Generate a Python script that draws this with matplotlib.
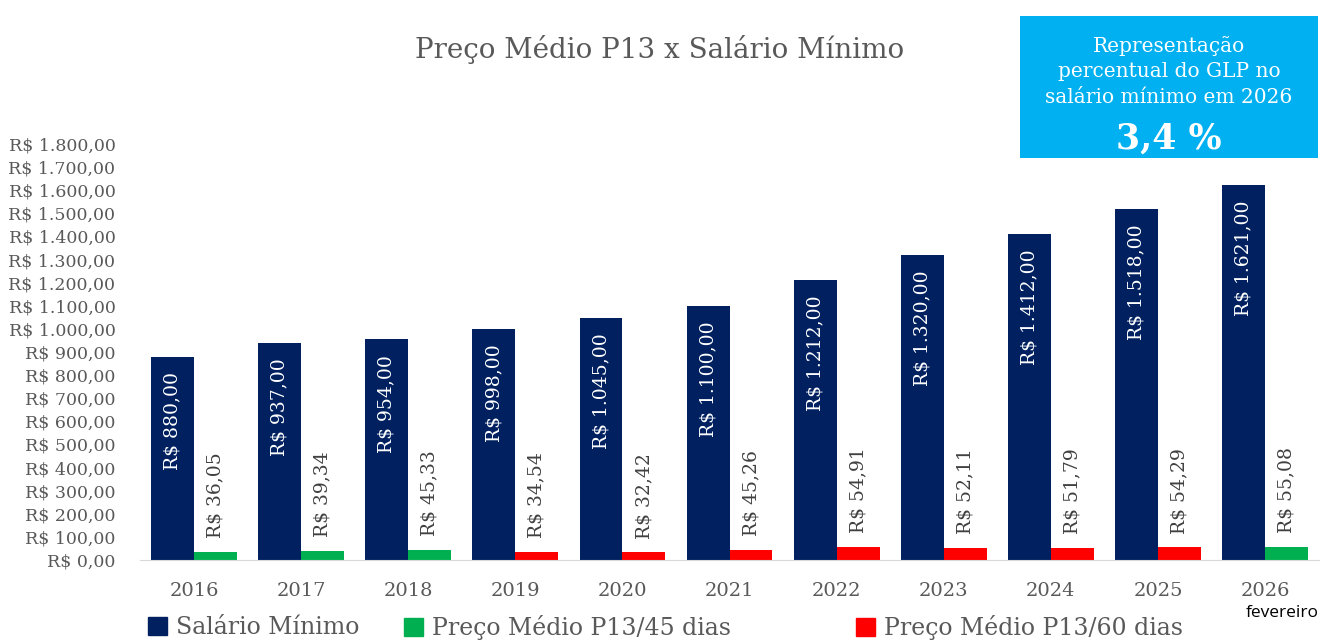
import matplotlib
matplotlib.use("Agg")
from matplotlib import pyplot as plt
from matplotlib.patches import Patch
from matplotlib.ticker import FuncFormatter, MultipleLocator
import numpy as np

anos = ["2016", "2017", "2018", "2019", "2020", "2021", "2022", "2023", "2024", "2025", "2026"]
salario_minimo = [880.00, 937.00, 954.00, 998.00, 1045.00, 1100.00, 1212.00, 1320.00, 1412.00, 1518.00, 1621.00]
preco_p13 = [36.05, 39.34, 45.33, 34.54, 32.42, 45.26, 54.91, 52.11, 51.79, 54.29, 55.08]
prazo_p13 = [45, 45, 45, 60, 60, 60, 60, 60, 60, 60, 45]
percentual_2026 = "3,4 %"

NAVY = "#002060"
GREEN = "#00B050"
RED = "#FF0000"
GRAY = "#595959"
SERIF = ["DejaVu Serif"]


def brl(v, pos=None):
    s = f"{v:,.2f}".replace(",", "X").replace(".", ",").replace("X", ".")
    return f"R$ {s}"


fig = plt.figure(figsize=(13.2, 6.41), dpi=100)
ax = fig.add_axes([0.1064, 0.1264, 0.8926, 0.649])

x = np.arange(len(anos))
w = 0.4
ax.bar(x - w / 2, salario_minimo, width=w, color=NAVY, align="center")
cores = [GREEN if p == 45 else RED for p in prazo_p13]
ax.bar(x + w / 2, preco_p13, width=w, color=cores, align="center")

for xi, v in zip(x, salario_minimo):
    ax.annotate(brl(v), (xi - w / 2, v), xytext=(0, -11), textcoords="offset points",
                rotation=90, ha="center", va="top", color="white", fontsize=13.5, family=SERIF)
for xi, v in zip(x, preco_p13):
    ax.annotate(brl(v), (xi + w / 2, v), xytext=(0, 10), textcoords="offset points",
                rotation=90, ha="center", va="bottom", color="#404040", fontsize=13.5, family=SERIF)

ax.set_xlim(-0.5, len(anos) - 0.5)
ax.set_ylim(0, 1800)
ax.yaxis.set_major_locator(MultipleLocator(100))
ax.yaxis.set_major_formatter(FuncFormatter(brl))
ax.set_xticks(x)
ax.set_xticklabels(anos)
for lab in ax.get_yticklabels():
    lab.set_family(SERIF)
    lab.set_fontsize(12.5)
    lab.set_color(GRAY)
for lab in ax.get_xticklabels():
    lab.set_family(SERIF)
    lab.set_fontsize(14)
    lab.set_color(GRAY)
ax.tick_params(axis="y", length=0, pad=18)
ax.tick_params(axis="x", length=0, pad=16)
for s in ["top", "right", "left"]:
    ax.spines[s].set_visible(False)
ax.spines["bottom"].set_color("#D9D9D9")

ax.text(x[-1] + 0.16, -0.108, "fevereiro", transform=ax.get_xaxis_transform(),
        ha="center", va="top", fontsize=12.5, color="black", family=["Open Sans", "DejaVu Sans"])

fig.text(0.5, 1 - 50 / 641, "Preço Médio P13 x Salário Mínimo", ha="center", va="center",
         fontsize=20, color=GRAY, family=SERIF)

# caixa de destaque
box = fig.add_axes([1020 / 1320, 1 - 158 / 641, 298 / 1320, 142 / 641])
box.set_facecolor("#00B0F0")
box.set_xticks([])
box.set_yticks([])
for s in box.spines.values():
    s.set_visible(False)
box.text(0.5, 0.61, "Representação\npercentual do GLP no\nsalário mínimo em 2026",
         ha="center", va="center", color="white", fontsize=14.5, family=SERIF, linespacing=1.45)
box.text(0.5, 0.14, percentual_2026, ha="center", va="center", color="white",
         fontsize=25, fontweight="bold", family=SERIF)

leg_items = [("Salário Mínimo", NAVY, 148), ("Preço Médio P13/45 dias", GREEN, 404),
             ("Preço Médio P13/60 dias", RED, 856)]
for nome, cor, px in leg_items:
    lg = fig.legend(handles=[Patch(color=cor, label=nome)], loc="center left",
                    bbox_to_anchor=(px / 1320, 1 - 628 / 641), frameon=False,
                    handlelength=0.8, handleheight=0.8, handletextpad=0.4,
                    prop={"family": SERIF, "size": 17}, borderaxespad=0, borderpad=0)
    for t in lg.get_texts():
        t.set_color(GRAY)

fig.savefig("out.png", dpi=100)
